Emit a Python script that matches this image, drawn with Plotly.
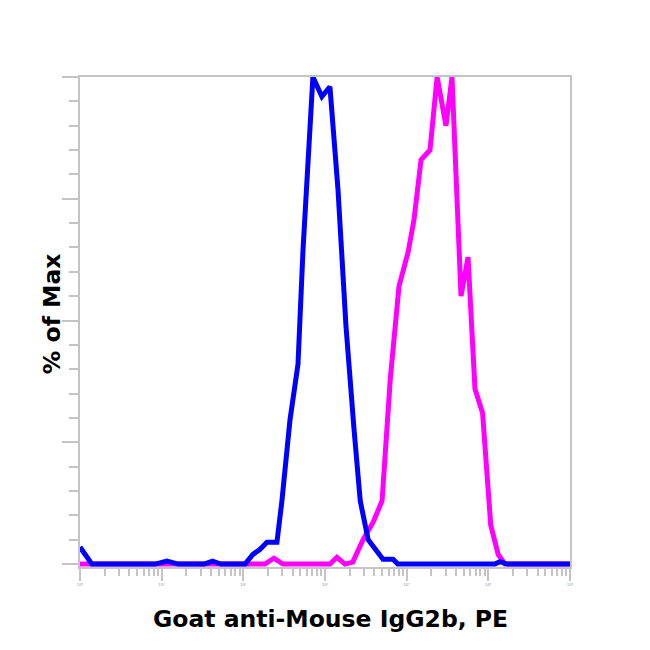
import plotly.graph_objects as go

# Fluorescence intensity (log scale) and % of max
blue_x = [1, 1.4, 8.3, 11.6, 15.9, 33, 42, 53, 105, 131, 159, 195, 258, 297, 372, 467, 538, 618, 711,
          916, 1149, 1441, 1808, 2266, 2700, 3380, 4100, 5130, 6800, 7800, 120000, 139000, 170000, 1000000]
blue_y = [3.5, 0, 0, 0.6, 0, 0, 0.6, 0, 0, 2, 3, 4.5, 4.5, 13, 29.5, 41, 64.5, 81, 100,
          96, 98, 77, 48.8, 27.7, 13, 5, 3, 1, 1, 0, 0, 0.5, 0, 0]

mag_x = [1, 184, 237, 306, 1150, 1400, 1760, 2190, 2920, 3890, 5000, 6300, 8050, 10400, 12300, 15000,
         19300, 23600, 30300, 35900, 46300, 56400, 68600, 85000, 107000, 132000, 160000, 1000000]
mag_y = [0, 0, 1.2, 0, 0, 1.4, 0, 0.4, 5, 8.6, 13, 38, 57, 64, 70.7, 83,
         85, 100, 90, 100, 55, 63, 36, 31, 8, 2, 0, 0]

x_major = [1, 10, 100, 1000, 10000, 100000, 1000000]
x_labels = ["10⁰", "10¹", "10²", "10³", "10⁴", "10⁵", "10⁶"]
x_minor = [m * d for d in x_major[:-1] for m in range(2, 10)]

x_title = "Goat anti-Mouse IgG2b, PE"
y_title = "% of Max"

fig = go.Figure()
fig.add_trace(go.Scatter(x=mag_x, y=mag_y, mode="lines",
                         line=dict(color="#FF00FF", width=5), showlegend=False))
fig.add_trace(go.Scatter(x=blue_x, y=blue_y, mode="lines",
                         line=dict(color="#0000FF", width=5), showlegend=False))

axis_color = "#c4c4c4"
fig.update_layout(
    width=650, height=650,
    margin=dict(l=72, r=88, t=69, b=91, autoexpand=False),
    paper_bgcolor="white", plot_bgcolor="white",
    font=dict(family="DejaVu Sans", color="black"),
    xaxis=dict(
        type="log", range=[0, 6], automargin=False,
        showline=True, linecolor=axis_color, linewidth=2, mirror=True,
        showgrid=False, zeroline=False,
        ticks="outside", ticklen=12, tickcolor=axis_color, tickwidth=2,
        tickvals=x_major, ticktext=x_labels,
        tickfont=dict(size=4, color="#999999"),
        minor=dict(tickvals=x_minor, ticks="outside", ticklen=7,
                   tickcolor=axis_color, tickwidth=2, showgrid=False),
    ),
    yaxis=dict(
        range=[-0.6, 100], automargin=False,
        showline=True, linecolor=axis_color, linewidth=2, mirror=True,
        showgrid=False, zeroline=False,
        ticks="outside", ticklen=16, tickcolor=axis_color, tickwidth=2,
        tickvals=[0, 25, 50, 75, 100], showticklabels=False,
        minor=dict(dtick=5, tick0=0, ticks="outside", ticklen=9,
                   tickcolor=axis_color, tickwidth=2, showgrid=False),
    ),
    annotations=[
        dict(text="<b>" + x_title + "</b>", xref="paper", yref="paper",
             x=0.512, y=-0.107, xanchor="center", yanchor="middle",
             showarrow=False, font=dict(size=23.5, family="DejaVu Sans", color="black")),
        dict(text="<b>" + y_title + "</b>", xref="paper", yref="paper",
             x=-0.057, y=0.516, xanchor="center", yanchor="middle", textangle=-90,
             showarrow=False, font=dict(size=23.5, family="DejaVu Sans", color="black")),
    ],
)

fig.write_html("out.html")
